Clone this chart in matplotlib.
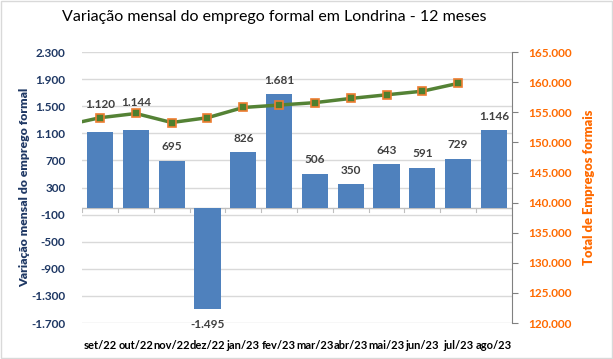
import numpy as np
import matplotlib.pyplot as plt
from matplotlib.ticker import FuncFormatter

# dados
meses = ["set/22", "out/22", "nov/22", "dez/22", "jan/23", "fev/23",
         "mar/23", "abr/23", "mai/23", "jun/23", "jul/23", "ago/23"]
variacao = [1120, 1144, 695, -1495, 826, 1681, 506, 350, 643, 591, 729, 1146]
# estoque total, o primeiro valor é ago/22, fora da área do gráfico
total_ant = 152800
total = [154100, 154800, 153300, 154100, 155800, 156200, 156600, 157300,
         157900, 158500, 159800]

plt.rcParams['font.family'] = ['Lato', 'DejaVu Sans']

azul_escuro = '#1F3864'
laranja = '#FF6A00'

def milhar(v, pos=None):
    return f"{v:,.0f}".replace(",", ".")

fig = plt.figure(figsize=(6.13, 3.59), dpi=100)
ax = fig.add_axes([0.134, 0.100, 0.701, 0.755])
x = np.arange(len(meses))

ax.bar(x, variacao, width=0.73, color='#4F81BD', zorder=2)
ax.set_ylim(-1700, 2300)
ax.set_yticks(np.arange(-1700, 2301, 400))
ax.yaxis.set_major_formatter(FuncFormatter(milhar))
ax.set_xlim(-0.5, len(meses) - 0.5)
ax.grid(axis='y', color='#D9D9D9', linewidth=1, zorder=0)
ax.axhline(0, color='#BFBFBF', linewidth=1, zorder=1)
ax.tick_params(axis='y', length=0, pad=12, labelsize=8.5, labelcolor=azul_escuro)
ax.tick_params(axis='x', length=0, pad=12, labelsize=8)
ax.set_xticks(x)
ax.set_xticklabels(meses, fontweight='bold')
for lb in ax.get_yticklabels():
    lb.set_fontweight('bold')
for s in ax.spines.values():
    s.set_visible(False)
# marcas entre categorias no eixo zero
for xi in np.arange(-0.5, len(meses), 1.0):
    ax.plot([xi, xi], [0, -60], color='#BFBFBF', linewidth=0.8, zorder=1)
ax.set_ylabel('Variação mensal do emprego formal', color=azul_escuro,
              fontweight='heavy', fontsize=8.8)
ax.yaxis.set_label_coords(-0.121, 0.5)

# rótulos das barras
for i, v in enumerate(variacao):
    if v < 0:
        ax.annotate(milhar(v), (i, v), xytext=(0, -11), textcoords='offset points',
                    ha='center', va='center', fontsize=8.5, fontweight='bold', color='#404040')
    else:
        desl = 20 if i in (0, 1) else 10
        ax.annotate(milhar(v), (i, v), xytext=(0, desl), textcoords='offset points',
                    ha='center', va='center', fontsize=8.5, fontweight='bold', color='#404040')

# eixo secundário
ax2 = ax.twinx()
ax2.plot(np.arange(-1, len(total)), [total_ant] + total, color='#548235', linewidth=2.5,
         marker='s', markersize=6, markerfacecolor='#4E7F2E', markeredgecolor='#ED7D31',
         markeredgewidth=1.2, zorder=3)
ax2.set_xlim(-0.5, len(meses) - 0.5)
ax2.set_ylim(120000, 165000)
ax2.set_yticks(np.arange(120000, 165001, 5000))
ax2.yaxis.set_major_formatter(FuncFormatter(milhar))
ax2.tick_params(axis='y', length=4, color='#808080', pad=8, labelsize=8.5, labelcolor=laranja)
for lb in ax2.get_yticklabels():
    lb.set_fontweight('bold')
for nome, s in ax2.spines.items():
    s.set_visible(nome == 'right')
ax2.spines['right'].set_color('#808080')
ax2.set_ylabel('Total de Empregos formais', color=laranja, fontweight='heavy', fontsize=9.3)
ax2.yaxis.set_label_coords(1.165, 0.5)

fig.text(0.447, 0.953, 'Variação mensal do emprego formal em Londrina - 12 meses',
         ha='center', va='center', fontsize=11.5)

# moldura
fig.patches.append(plt.Rectangle((0.002, 0.003), 0.996, 0.994, transform=fig.transFigure,
                                 fill=False, edgecolor='#D9D9D9', linewidth=1))

fig.savefig('out.png', dpi=100)
